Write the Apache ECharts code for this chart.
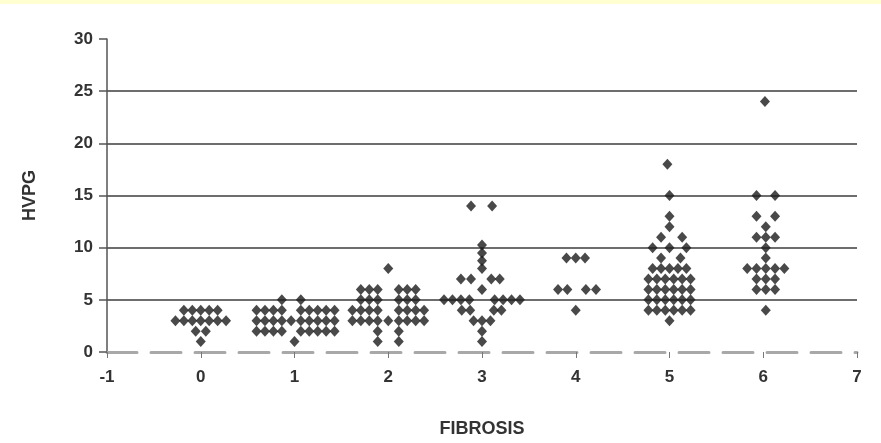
<!DOCTYPE html>
<html>
<head>
<meta charset="utf-8">
<script src="https://cdn.jsdelivr.net/npm/echarts@6/dist/echarts.min.js"></script>
<style>
  html, body { margin: 0; padding: 0; background: #fff; }
  #chart { width: 881px; height: 443px; }
</style>
</head>
<body>
<div id="chart"></div>
<script>
// fibrosis stage -> rows of [HVPG, horizontal slots of each dot]
const SLOT = 0.09;
const stage0 = [[4, [-2, -1, 0, 1, 2]], [3, [-3, -2, -1, 0, 1, 2, 3]], [2, [-0.6, 0.6]], [1, [0]]];
const stage1 = [
  [5, [-1.5, 0.75]],
  [4, [-4.5, -3.5, -2.5, -1.5, 0.75, 1.75, 2.75, 3.75, 4.75]],
  [3, [-4.5, -3.5, -2.5, -1.5, -0.4, 0.75, 1.75, 2.75, 3.75, 4.75]],
  [2, [-4.5, -3.5, -2.5, -1.5, 0.75, 1.75, 2.75, 3.75, 4.75]],
  [1, [0]],
];
const stage2 = [
  [8, [0]],
  [6, [-3.25, -2.25, -1.25, 1.25, 2.25, 3.25]],
  [5, [-3.25, -2.25, -1.25, 1.25, 2.25, 3.25]],
  [4, [-4.25, -3.25, -2.25, -1.25, 1.25, 2.25, 3.25, 4.25]],
  [3, [-4.25, -3.25, -2.25, -1.25, 0, 1.25, 2.25, 3.25, 4.25]],
  [2, [-1.25, 1.25]],
  [1, [-1.25, 1.25]],
];
const stage3 = [
  [14, [-1.3, 1.2]],
  [10.25, [0]], [9.5, [0]], [8.75, [0]], [8, [0]],
  [7, [-2.5, -1.3, 1.1, 2.1]],
  [6, [0]],
  [5, [-4.5, -3.5, -2.5, -1.5, 1.5, 2.5, 3.5, 4.5]],
  [4, [-2.4, -1.4, 1.4, 2.3]],
  [3, [-1, 0, 1]],
  [2, [0]],
  [1, [0]],
];
const stage4 = [[9, [-1.1, 0, 1.1]], [6, [-2.1, -1, 1.2, 2.4]], [4, [0]]];
const stage5 = [
  [18, [-0.25]], [15, [0]], [13, [0]], [12, [0]],
  [11, [-1, 1.5]],
  [10, [-2, 0, 2]],
  [9, [-1, 1.3]],
  [8, [-2, -1, 0, 1, 2]],
  [7, [-2.5, -1.5, -0.5, 0.5, 1.5, 2.5]],
  [6, [-2.5, -1.5, -0.5, 0.5, 1.5, 2.5]],
  [5, [-2.5, -1.5, -0.5, 0.5, 1.5, 2.5]],
  [4, [-2.5, -1.5, -0.5, 0.5, 1.5, 2.5]],
  [3, [0]],
];
const stage6 = [
  [24, [0.2]],
  [15, [-0.8, 1.4]],
  [13, [-0.8, 1.4]],
  [12, [0.3]],
  [11, [-0.8, 0.3, 1.4]],
  [10, [0.3]], [9, [0.3]],
  [8, [-1.9, -0.8, 0.3, 1.4, 2.5]],
  [7, [-0.8, 0.3, 1.4]],
  [6, [-0.8, 0.3, 1.4]],
  [4, [0.3]],
];
const stages = [stage0, stage1, stage2, stage3, stage4, stage5, stage6];
const xTicks = [-1, 0, 1, 2, 3, 4, 5, 6, 7];
const yTicks = [0, 5, 10, 15, 20, 25, 30];

const points = stages.flatMap((rows, stage) =>
  rows.flatMap(([hvpg, slots]) => slots.map(s => [stage + s * SLOT, hvpg])));

const font = "'Liberation Sans Narrow', 'Liberation Sans', Arial, sans-serif";
const chart = echarts.init(document.getElementById("chart"));
chart.setOption({
  animation: false,
  graphic: [{ type: "rect", left: 0, top: 0, shape: { width: 881, height: 4 }, style: { fill: "#ffffd2" } }],
  grid: { left: 107, right: 24, top: 39, bottom: 91 },
  xAxis: {
    type: "value", min: xTicks[0], max: xTicks[xTicks.length - 1], interval: 1,
    name: "FIBROSIS", nameLocation: "middle", nameGap: 68,
    nameTextStyle: { fontFamily: font, fontSize: 18, fontWeight: "bold", color: "#333" },
    axisLine: { onZero: false, lineStyle: { color: "#a8a8a8", width: 3, type: [30, 14] } },
    axisTick: { show: true, length: 6, lineStyle: { color: "#777", width: 1 } },
    axisLabel: { margin: 17, fontFamily: font, fontSize: 17, fontWeight: "bold", color: "#333" },
    splitLine: { show: false },
  },
  yAxis: {
    type: "value", min: yTicks[0], max: yTicks[yTicks.length - 1], interval: 5,
    name: "HVPG", nameLocation: "middle", nameGap: 68, nameRotate: 90,
    nameTextStyle: { fontFamily: font, fontSize: 18, fontWeight: "bold", color: "#333" },
    axisLine: { show: true, onZero: false, lineStyle: { color: "#555", width: 1.5 } },
    axisTick: { show: true, length: 8, lineStyle: { color: "#555", width: 1.5 } },
    axisLabel: { margin: 14, fontFamily: font, fontSize: 17, fontWeight: "bold", color: "#333" },
    splitLine: { show: true, showMinLine: false, showMaxLine: false, lineStyle: { color: "#3c3c3c", width: 1.6 } },
  },
  series: [{
    type: "scatter",
    data: points,
    symbol: "diamond",
    symbolSize: [10, 11],
    itemStyle: { color: "#1c1c1c" },
    z: 5,
  }],
});
</script>
</body>
</html>
